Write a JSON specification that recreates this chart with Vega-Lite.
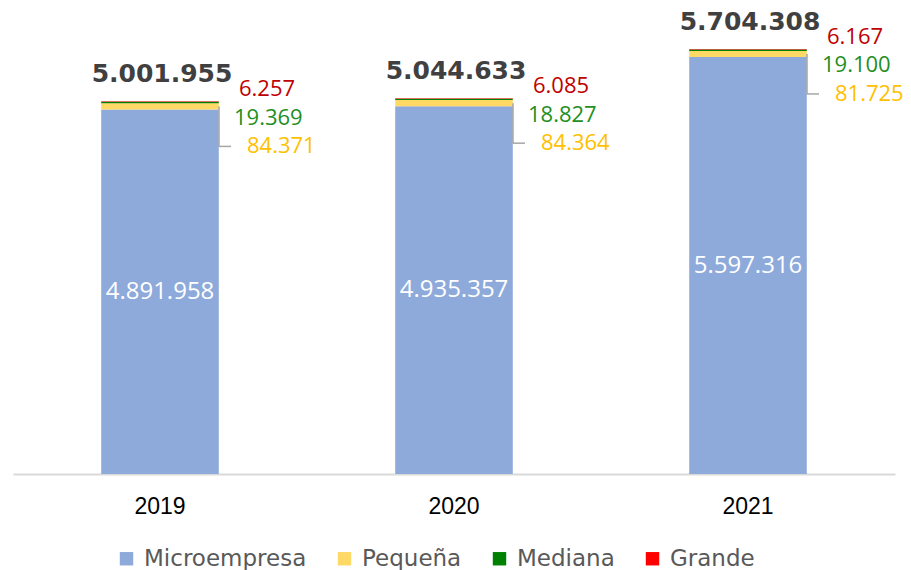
{
  "$schema": "https://vega.github.io/schema/vega-lite/v6.json",
  "autosize": {"type": "none"},
  "padding": {"left": 13, "top": 27, "right": 16, "bottom": 96},
  "width": 882,
  "height": 447,
  "background": "white",
  "config": {
    "view": {"stroke": null},
    "locale": {"number": {"decimal": ",", "thousands": ".", "grouping": [3], "currency": ["$", ""]}}
  },
  "data": {
    "values": [
      {"year": "2019", "cat": "Microempresa", "ord": 1, "value": 4891958},
      {"year": "2019", "cat": "Pequeña", "ord": 2, "value": 84371},
      {"year": "2019", "cat": "Mediana", "ord": 3, "value": 19369},
      {"year": "2019", "cat": "Grande", "ord": 4, "value": 6257},
      {"year": "2020", "cat": "Microempresa", "ord": 1, "value": 4935357},
      {"year": "2020", "cat": "Pequeña", "ord": 2, "value": 84364},
      {"year": "2020", "cat": "Mediana", "ord": 3, "value": 18827},
      {"year": "2020", "cat": "Grande", "ord": 4, "value": 6085},
      {"year": "2021", "cat": "Microempresa", "ord": 1, "value": 5597316},
      {"year": "2021", "cat": "Pequeña", "ord": 2, "value": 81725},
      {"year": "2021", "cat": "Mediana", "ord": 3, "value": 19100},
      {"year": "2021", "cat": "Grande", "ord": 4, "value": 6167}
    ]
  },
  "transform": [
    {"stack": "value", "groupby": ["year"], "sort": [{"field": "ord", "order": "ascending"}], "as": ["v0", "v1"]},
    {"calculate": "(datum.v0 + datum.v1) / 2", "as": "mid"}
  ],
  "encoding": {
    "x": {
      "field": "year", "type": "nominal", "title": null,
      "scale": {"paddingInner": 0.6, "paddingOuter": 0.3},
      "axis": {"labelAngle": 0, "ticks": false, "domainColor": "#d9d9d9", "domainWidth": 2, "labelFont": "Liberation Sans", "labelFontSize": 23, "labelColor": "#000000", "labelPadding": 21}
    }
  },
  "layer": [
    {
      "mark": {"type": "bar", "stroke": null},
      "encoding": {
        "y": {"field": "v0", "type": "quantitative", "scale": {"domain": [0, 6000000], "nice": false}, "axis": null},
        "y2": {"field": "v1"},
        "color": {
          "field": "cat", "type": "nominal",
          "scale": {"domain": ["Microempresa", "Pequeña", "Mediana", "Grande"], "range": ["#8eaadb", "#ffd966", "#008000", "#ff0000"]},
          "legend": {"title": null, "orient": "none", "direction": "horizontal", "legendX": 102, "legendY": 520, "symbolType": "square", "symbolSize": 180, "symbolStrokeWidth": 0, "labelFont": "DejaVu Sans", "labelFontSize": 23, "labelColor": "#595959", "labelOffset": 6, "labelLimit": 400, "columnPadding": 26}
        }
      }
    },
    {
      "transform": [{"filter": "datum.cat == 'Microempresa'"}],
      "mark": {"type": "text", "color": "white", "font": "Open Sans", "fontSize": 24, "baseline": "middle"},
      "encoding": {"y": {"field": "mid", "type": "quantitative"}, "text": {"field": "value", "type": "quantitative", "format": ",d"}}
    },
    {
      "transform": [{"filter": "datum.cat == 'Grande'"}],
      "mark": {"type": "text", "color": "#404040", "font": "DejaVu Sans", "fontWeight": "bold", "fontSize": 25, "baseline": "middle", "dy": -27, "dx": 2},
      "encoding": {"y": {"field": "v1", "type": "quantitative"}, "text": {"field": "v1", "type": "quantitative", "format": ",d"}}
    },
    {
      "transform": [{"filter": "datum.cat == 'Grande'"}],
      "mark": {"type": "text", "color": "#c00000", "font": "Open Sans", "fontSize": 22, "baseline": "middle", "align": "left", "dy": -12, "dx": 79},
      "encoding": {"y": {"field": "v1", "type": "quantitative"}, "text": {"field": "value", "type": "quantitative", "format": ",d"}}
    },
    {
      "transform": [{"filter": "datum.cat == 'Mediana'"}],
      "mark": {"type": "text", "color": "#1f8f1f", "font": "Open Sans", "fontSize": 22, "baseline": "middle", "align": "left", "dy": 16, "dx": 74},
      "encoding": {"y": {"field": "v1", "type": "quantitative"}, "text": {"field": "value", "type": "quantitative", "format": ",d"}}
    },
    {
      "transform": [{"filter": "datum.cat == 'Pequeña'"}],
      "mark": {"type": "text", "color": "#ffc000", "font": "Open Sans", "fontSize": 22, "baseline": "middle", "align": "left", "dy": 40, "dx": 87},
      "encoding": {"y": {"field": "mid", "type": "quantitative"}, "text": {"field": "value", "type": "quantitative", "format": ",d"}}
    },
    {
      "transform": [{"filter": "datum.cat == 'Pequeña'"}],
      "mark": {"type": "rule", "color": "#a6a6a6", "strokeWidth": 1.5, "xOffset": 59, "y2Offset": 40},
      "encoding": {"y": {"field": "mid", "type": "quantitative"}, "y2": {"field": "mid"}}
    },
    {
      "transform": [{"filter": "datum.cat == 'Pequeña'"}],
      "mark": {"type": "rule", "color": "#a6a6a6", "strokeWidth": 1.5, "xOffset": 59, "x2Offset": 71, "yOffset": 40},
      "encoding": {"x2": {"field": "year"}, "y": {"field": "mid", "type": "quantitative"}}
    }
  ]
}
